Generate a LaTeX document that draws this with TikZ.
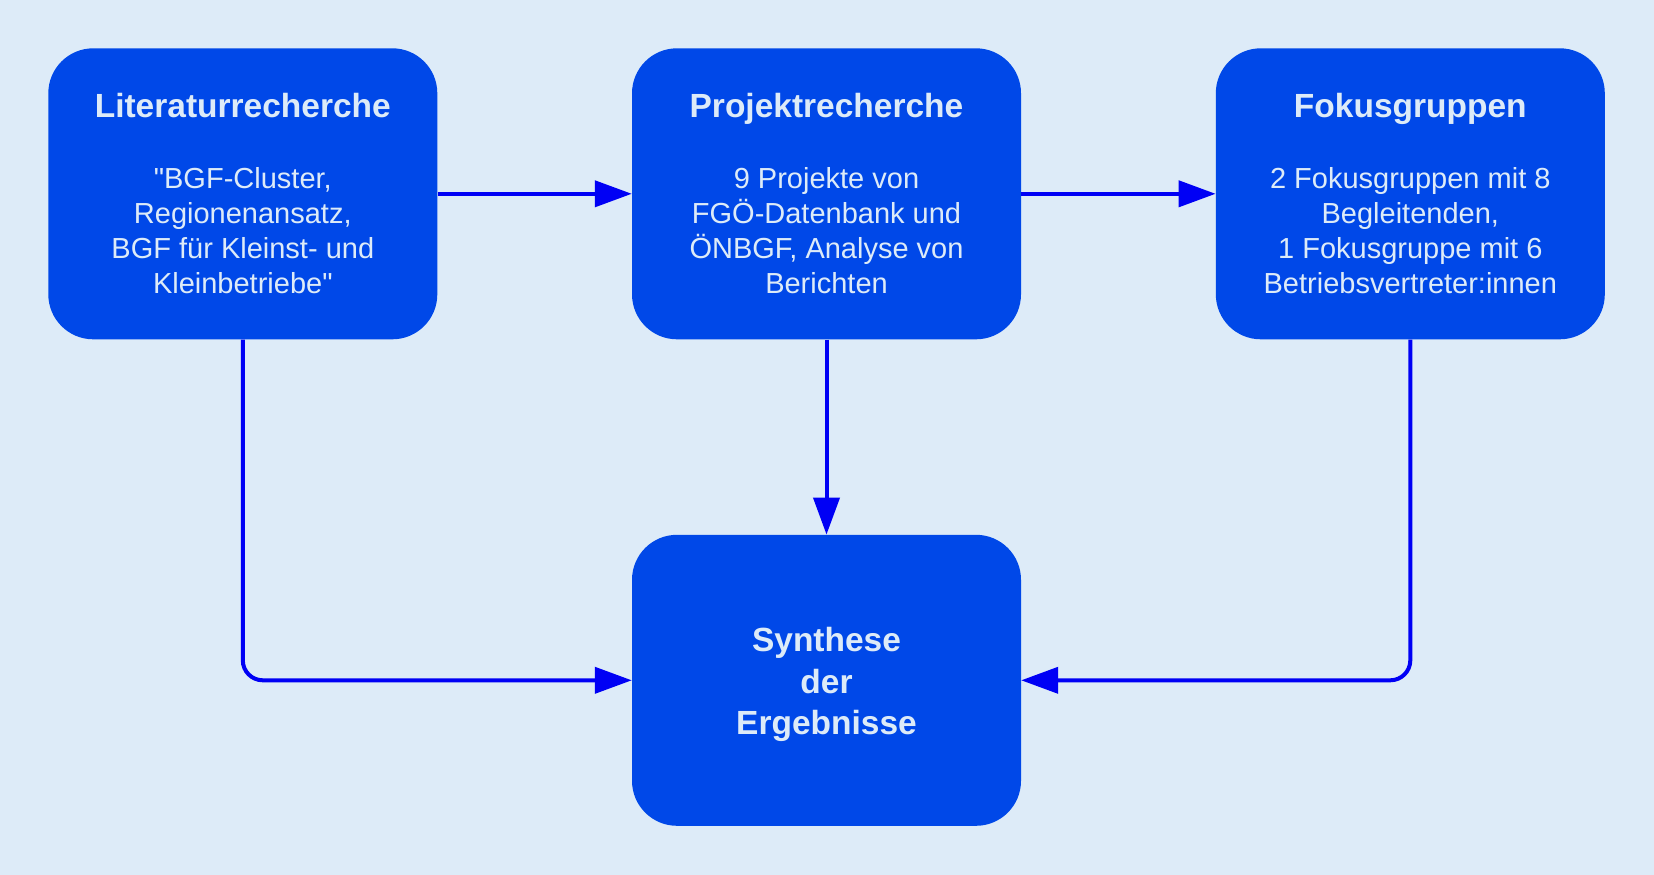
\documentclass[tikz,border=0pt]{standalone}
\usepackage{fontspec}
\setmainfont{Liberation Sans}[Ligatures=TeXOff]
\usetikzlibrary{arrows.meta}
\definecolor{bg}{HTML}{DDEBF8}
\definecolor{boxfill}{HTML}{0048E8}
\definecolor{arrowcol}{HTML}{0000F5}
\tikzset{
  stepbox/.style={fill=boxfill, draw=none, rounded corners=45pt, minimum width=389pt, minimum height=291pt, inner sep=0pt, align=center, text=bg, font=\fontsize{29}{35}\selectfont},
  syntext/.style={inner sep=0pt, align=center, text=bg, font=\bfseries\fontsize{33.5}{41.5}\selectfont},
  conn/.style={draw=arrowcol, line width=4pt, -{Triangle[length=37pt,width=26pt]}},
}
\newcommand{\boxtitle}[1]{{\bfseries\fontsize{33.5}{40}\selectfont #1}\\[36pt]}
\begin{document}
\begin{tikzpicture}[x=1pt,y=-1pt]
\fill[bg] (0,0) rectangle (1654,875);
\useasboundingbox (0,0) rectangle (1654,875);
\node[stepbox] (lit) at (242.8,193.8) {\boxtitle{Literaturrecherche}"BGF-Cluster,\\Regionenansatz,\\BGF für Kleinst- und\\Kleinbetriebe"};
\node[stepbox] (proj) at (826.5,193.8) {\boxtitle{Projektrecherche}9 Projekte von\\FGÖ-Datenbank und\\ÖNBGF, Analyse von\\Berichten};
\node[stepbox] (fok) at (1410.3,193.8) {\boxtitle{Fokusgruppen}2 Fokusgruppen mit 8\\Begleitenden,\\1 Fokusgruppe mit 6\\Betriebsvertreter:innen};
\node[stepbox] (syn) at (826.5,680.3) {};
\node[syntext] (syntxt) at ([yshift=-4.2pt]syn.center) {Synthese\\der\\Ergebnisse};
\draw[conn] (lit) -- (proj);
\draw[conn] (proj) -- (fok);
\draw[conn] (proj) -- (syn);
\draw[conn, rounded corners=20pt] (lit.south) |- (syn.west);
\draw[conn, rounded corners=20pt] (fok.south) |- (syn.east);
\end{tikzpicture}
\end{document}
